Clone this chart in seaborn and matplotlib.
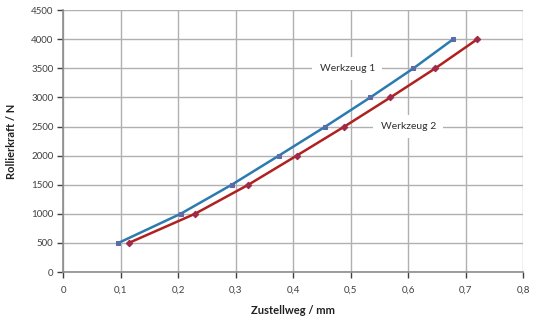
import matplotlib
matplotlib.use("Agg")
import matplotlib.pyplot as plt
import seaborn as sns
import pandas as pd
from matplotlib.ticker import FuncFormatter, MultipleLocator

# Rolling force over infeed for two tools
kraft = [500, 1000, 1500, 2000, 2500, 3000, 3500, 4000]
weg_werkzeug1 = [0.096, 0.204, 0.293, 0.375, 0.456, 0.534, 0.609, 0.678]
weg_werkzeug2 = [0.114, 0.229, 0.322, 0.406, 0.489, 0.569, 0.647, 0.720]
serien = ["Werkzeug 1", "Werkzeug 2"]

df = pd.concat([
    pd.DataFrame({"weg": weg_werkzeug1, "kraft": kraft, "serie": serien[0]}),
    pd.DataFrame({"weg": weg_werkzeug2, "kraft": kraft, "serie": serien[1]}),
])

sns.set_theme(style="white")
plt.rcParams["font.family"] = ["Lato", "DejaVu Sans"]

fig = plt.figure(figsize=(5.4, 3.27), dpi=100)
ax = fig.add_axes([0.117, 0.168, 0.852, 0.801])

line_colors = {"Werkzeug 1": "#2C7BB0", "Werkzeug 2": "#B0201E"}
marker_colors = {"Werkzeug 1": "#5A6BA8", "Werkzeug 2": "#A02848"}
marker_styles = {"Werkzeug 1": "s", "Werkzeug 2": "D"}

for s in serien:
    sub = df[df["serie"] == s]
    sns.lineplot(data=sub, x="weg", y="kraft", sort=False, ax=ax,
                 color=line_colors[s], linewidth=1.8, marker=marker_styles[s],
                 markersize=3.3, markerfacecolor=marker_colors[s],
                 markeredgecolor=marker_colors[s], legend=False)

ax.set_xlim(0, 0.8)
ax.set_ylim(0, 4500)
ax.xaxis.set_major_locator(MultipleLocator(0.1))
ax.yaxis.set_major_locator(MultipleLocator(500))
ax.xaxis.set_major_formatter(FuncFormatter(lambda v, p: f"{v:.1f}".replace(".", ",") if v > 0 else "0"))
ax.yaxis.set_major_formatter(FuncFormatter(lambda v, p: f"{int(v)}"))

ax.grid(True, color="#B0B0B0", linewidth=1.0)
ax.set_axisbelow(True)
for side in ["top", "right"]:
    ax.spines[side].set_visible(False)
for side in ["left", "bottom"]:
    ax.spines[side].set_color("#8C8C8C")
    ax.spines[side].set_linewidth(1.2)

ax.tick_params(axis="both", which="major", labelsize=7, colors="#404040",
               length=4, width=1, direction="out", left=True, bottom=True)
ax.tick_params(axis="x", pad=6)
ax.tick_params(axis="y", pad=3)
for t in ax.get_xticklabels() + ax.get_yticklabels():
    t.set_color("#404040")

ax.set_xlabel("Zustellweg / mm", fontsize=8, fontweight="bold", color="#202020", labelpad=7)
ax.set_ylabel("Rollierkraft / N", fontsize=8, fontweight="bold", color="#202020", labelpad=10)

box = dict(boxstyle="square,pad=0.7", facecolor="white", edgecolor="none")
ax.text(0.494, 3500, serien[0], fontsize=7.5, color="#303030", ha="center", va="center", bbox=box)
ax.text(0.600, 2500, serien[1], fontsize=7.5, color="#303030", ha="center", va="center", bbox=box)

fig.savefig("out.png", dpi=100)
